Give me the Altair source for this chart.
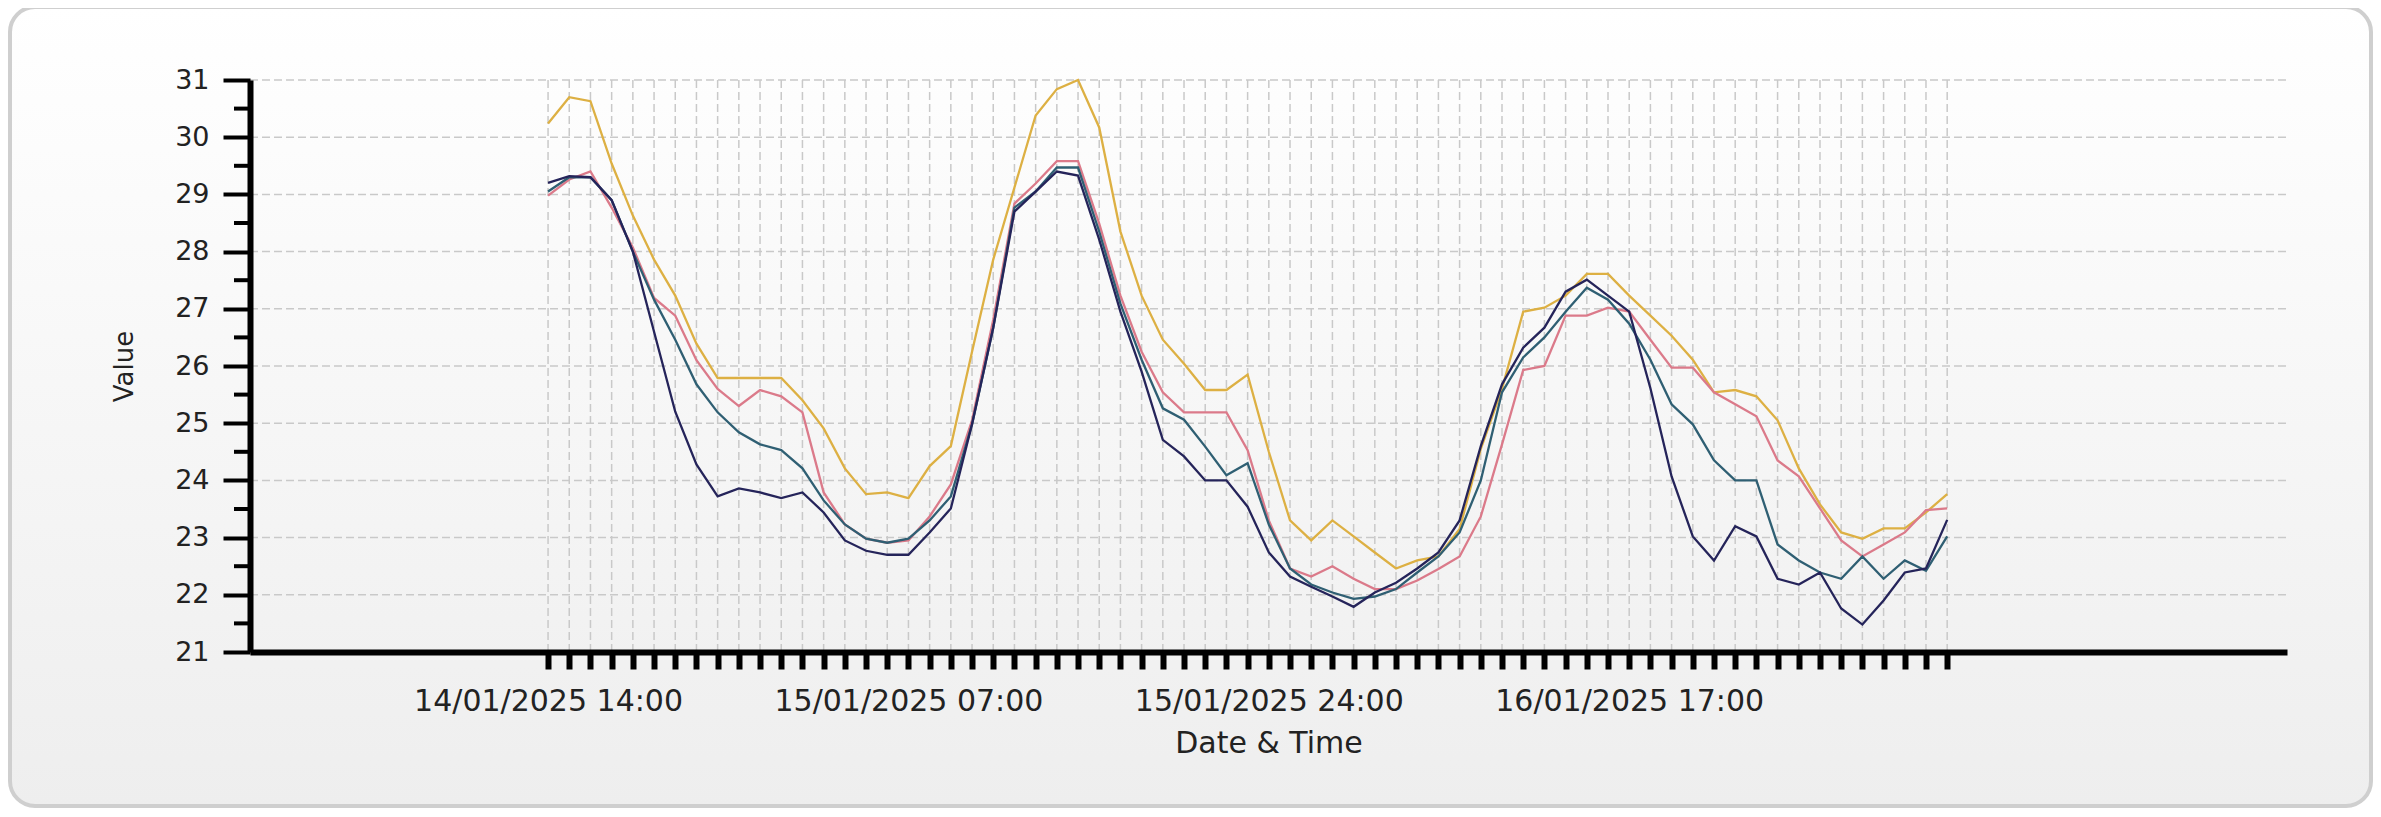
import altair as alt
import pandas as pd

# ---- data (hourly readings, 14/01/2025 14:00 -> 17/01/2025 08:00) ----
series_names = ["Sensor 1", "Sensor 2", "Sensor 3", "Sensor 4"]

gold = [30.24, 30.70, 30.63, 29.54, 28.63, 27.86, 27.23, 26.39, 25.79, 25.79,
        25.79, 25.79, 25.40, 24.91, 24.21, 23.76, 23.79, 23.69, 24.25, 24.60,
        26.25, 27.86, 29.12, 30.38, 30.84, 31.00, 30.17, 28.35, 27.23, 26.46,
        26.04, 25.58, 25.58, 25.85, 24.50, 23.30, 22.95, 23.30, 23.02, 22.74,
        22.46, 22.60, 22.67, 23.15, 24.55, 25.60, 26.95, 27.02, 27.23, 27.61,
        27.61, 27.23, 26.88, 26.53, 26.11, 25.54, 25.58, 25.47, 25.05, 24.21,
        23.58, 23.09, 22.98, 23.16, 23.16, 23.44, 23.76]

pink = [28.98, 29.26, 29.40, 28.77, 28.07, 27.19, 26.88, 26.10, 25.60, 25.30,
        25.58, 25.47, 25.19, 23.79, 23.23, 22.98, 22.91, 22.95, 23.37, 23.93,
        25.05, 26.81, 28.84, 29.19, 29.58, 29.58, 28.49, 27.23, 26.25, 25.54,
        25.19, 25.19, 25.19, 24.53, 23.30, 22.46, 22.32, 22.50, 22.28, 22.10,
        22.10, 22.25, 22.45, 22.67, 23.37, 24.63, 25.93, 26.00, 26.88, 26.88,
        27.02, 26.95, 26.46, 25.97, 25.97, 25.54, 25.33, 25.12, 24.35, 24.07,
        23.51, 22.95, 22.67, 22.88, 23.09, 23.48, 23.51]

teal = [29.05, 29.30, 29.30, 28.90, 28.00, 27.16, 26.46, 25.68, 25.19, 24.84,
        24.63, 24.53, 24.21, 23.65, 23.23, 22.98, 22.91, 22.98, 23.30, 23.72,
        24.98, 26.67, 28.77, 29.05, 29.47, 29.47, 28.35, 27.09, 26.11, 25.26,
        25.06, 24.59, 24.09, 24.30, 23.23, 22.46, 22.18, 22.04, 21.93, 21.97,
        22.10, 22.39, 22.67, 23.09, 24.00, 25.54, 26.15, 26.50, 26.95, 27.37,
        27.16, 26.74, 26.11, 25.33, 24.98, 24.35, 24.00, 24.00, 22.88, 22.60,
        22.39, 22.28, 22.67, 22.28, 22.60, 22.42, 23.02]

navy = [29.20, 29.32, 29.30, 28.90, 28.00, 26.60, 25.20, 24.28, 23.72, 23.86,
        23.79, 23.69, 23.79, 23.44, 22.95, 22.77, 22.70, 22.70, 23.09, 23.51,
        24.98, 26.67, 28.70, 29.05, 29.40, 29.33, 28.21, 26.95, 25.90, 24.71,
        24.42, 24.00, 24.00, 23.54, 22.74, 22.32, 22.14, 21.97, 21.79, 22.04,
        22.21, 22.46, 22.74, 23.30, 24.60, 25.68, 26.32, 26.67, 27.30, 27.51,
        27.23, 26.95, 25.61, 24.07, 23.02, 22.60, 23.20, 23.02, 22.28, 22.18,
        22.39, 21.76, 21.48, 21.90, 22.39, 22.46, 23.31]

series_colors = ["#DDB043", "#DB7A8A", "#2F5F73", "#25245A"]

label_positions = [0, 17, 34, 51]
label_texts = ["14/01/2025 14:00", "15/01/2025 07:00",
               "15/01/2025 24:00", "16/01/2025 17:00"]

y_major = [21, 22, 23, 24, 25, 26, 27, 28, 29, 30, 31]
y_minor = [21.5, 22.5, 23.5, 24.5, 25.5, 26.5, 27.5, 28.5, 29.5, 30.5]
y_grid = [22, 23, 24, 25, 26, 27, 28, 29, 30, 31]

n = len(gold)
hours = list(range(n))

rows = []
for name, vals in zip(series_names, [gold, pink, teal, navy]):
    for i, v in enumerate(vals):
        rows.append({"idx": i, "series": name, "value": v})
df = pd.DataFrame(rows)

# ---- layout ----
W, H = 2037, 572
X_DOMAIN = [-14.06, 82.03]
Y_DOMAIN = [21, 31]
FONT = "DejaVu Sans"

xscale = alt.Scale(domain=X_DOMAIN, nice=False, zero=False)
yscale = alt.Scale(domain=Y_DOMAIN, nice=False, zero=False)

pos_js = "[" + ",".join(str(p) for p in label_positions) + "]"
txt_js = "[" + ",".join("'" + t + "'" for t in label_texts) + "]"
label_expr = (f"indexof({pos_js}, datum.value) >= 0 ? "
              f"{txt_js}[indexof({pos_js}, datum.value)] : ''")

x_axis = alt.Axis(values=hours, labelExpr=label_expr, grid=False,
                  tickSize=17, tickWidth=6, tickColor="black",
                  domainColor="black", domainWidth=6,
                  labelFont=FONT, labelFontSize=30, labelColor="#222222",
                  labelPadding=17, labelOverlap=False, labelFlush=False,
                  labelBound=False, labelLimit=0,
                  title="Date & Time", titleFont=FONT, titleFontSize=30,
                  titleFontWeight="normal", titleColor="#222222",
                  titleY=91, titleBaseline="middle", zindex=1)
y_axis = alt.Axis(values=y_major, grid=False, format="d",
                  tickSize=27, tickWidth=4, tickColor="black",
                  domainColor="black", domainWidth=6,
                  labelFont=FONT, labelFontSize=27, labelColor="#222222",
                  labelPadding=14,
                  title="Value", titleFont=FONT, titleFontSize=26,
                  titleFontWeight="normal", titleColor="#222222",
                  titleAngle=270, titleX=-126, titleY=286,
                  titleBaseline="middle", zindex=1)

x_enc = alt.X("idx:Q", scale=xscale, axis=x_axis, title="Date & Time")
y_enc = alt.Y("value:Q", scale=yscale, axis=y_axis, title="Value")

# background rounded frame (white at top fading to light grey)
frame = alt.Chart(pd.DataFrame({"a": [0]})).mark_rect(
    cornerRadius=25,
    fill=alt.LinearGradient(
        gradient="linear", x1=0, y1=0, x2=0, y2=1,
        stops=[alt.GradientStop(offset=0, color="#FFFFFF"),
               alt.GradientStop(offset=1, color="#EEEEEE")]),
    stroke="#CFCFCF", strokeWidth=4,
).encode(x=alt.value(-240), x2=alt.value(2121), y=alt.value(-73), y2=alt.value(726))

grid_style = dict(color="#C9C9C9", strokeWidth=1.5, strokeDash=[8, 4])

hgrid = alt.Chart(pd.DataFrame({"value": y_grid})).mark_rule(**grid_style).encode(
    y=y_enc, x=alt.value(0), x2=alt.value(W),
)

vgrid = alt.Chart(pd.DataFrame({"idx": hours})).mark_rule(**grid_style).encode(
    x=x_enc, y=alt.value(0), y2=alt.value(H),
)

minor = alt.Chart(pd.DataFrame({"value": y_minor})).mark_rule(
    color="black", strokeWidth=4
).encode(
    y=y_enc, x=alt.value(-16), x2=alt.value(0),
)

lines = alt.Chart(df).mark_line(strokeWidth=2.3).encode(
    x=x_enc,
    y=y_enc,
    color=alt.Color("series:N",
                    scale=alt.Scale(domain=series_names, range=series_colors),
                    legend=None),
    order=alt.Order("idx:Q"),
)

chart = alt.layer(frame, hgrid, vgrid, minor, lines).properties(
    width=W, height=H,
    autosize=alt.AutoSizeParams(type="none"),
    padding={"left": 242, "top": 72, "right": 86, "bottom": 157},
    background="#FFFFFF",
).configure_view(strokeWidth=0)

chart.save("out.html", embed_options={"renderer": "svg", "actions": False})
